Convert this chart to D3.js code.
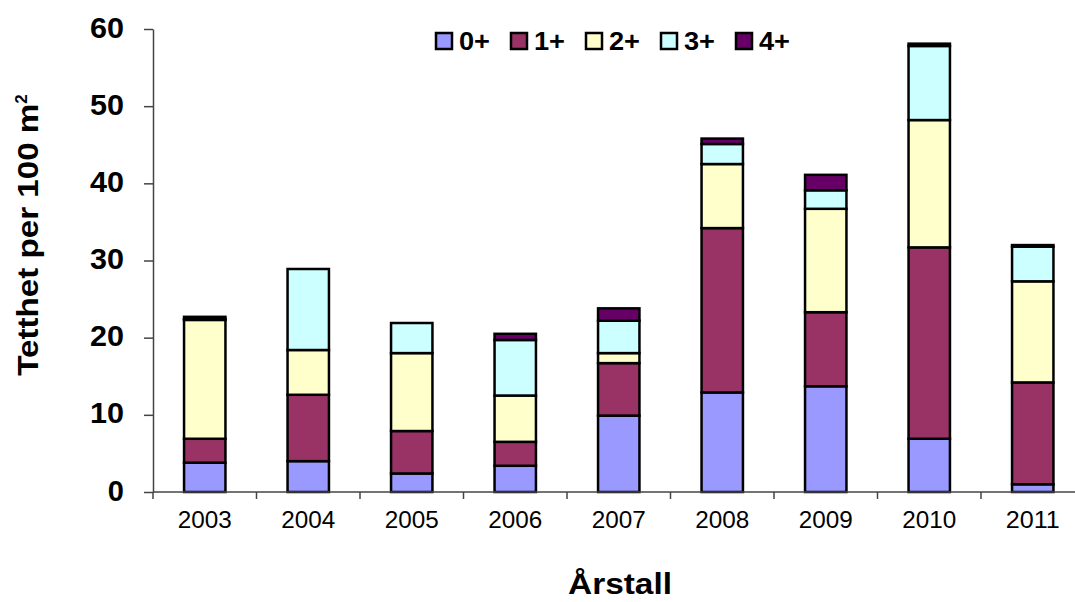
<!DOCTYPE html>
<html>
<head>
<meta charset="utf-8">
<script src="https://cdn.jsdelivr.net/npm/d3@7/dist/d3.min.js"></script>
<style>
  html, body { margin: 0; padding: 0; background: #fff; }
  svg { display: block; font-family: "Liberation Sans", Arial, sans-serif; }
</style>
</head>
<body>
<svg id="chart" width="1075" height="602"></svg>
<script>
const years = ["2003","2004","2005","2006","2007","2008","2009","2010","2011"];
const seriesNames = ["0+","1+","2+","3+","4+"];
const age0 = [3.8, 4.0, 2.4, 3.4, 9.9, 12.9, 13.7, 6.9, 1.0];
const age1 = [3.1, 8.6, 5.5, 3.1, 6.8, 21.3, 9.6, 24.8, 13.2];
const age2 = [15.4, 5.8, 10.1, 6.0, 1.3, 8.3, 13.4, 16.5, 13.1];
const age3 = [0.1, 10.5, 3.9, 7.2, 4.2, 2.6, 2.4, 9.6, 4.5];
const age4 = [0.3, 0.0, 0.0, 0.8, 1.6, 0.7, 2.0, 0.3, 0.2];
const yTicks = [0, 10, 20, 30, 40, 50, 60];
const colors = ["#9999FF", "#993366", "#FFFFCC", "#CCFFFF", "#660066"];

const seriesValues = [age0, age1, age2, age3, age4];
const rows = years.map((y, i) => {
  const r = { year: y };
  seriesNames.forEach((s, k) => r[s] = seriesValues[k][i]);
  return r;
});

const svg = d3.select("#chart");
const x0 = 153, x1 = 1084.5, yBottom = 492, yTop = 29;

const x = d3.scaleBand().domain(years).range([x0, x1]).paddingInner(0.6).paddingOuter(0.3);
const xb = d3.scaleBand().domain(years).range([x0, x1]);
const y = d3.scaleLinear().domain([0, 60]).range([yBottom, yTop]);
const color = d3.scaleOrdinal().domain(seriesNames).range(colors);

const stacked = d3.stack().keys(seriesNames)(rows);

// bars
const g = svg.append("g");
stacked.forEach(layer => {
  g.selectAll(null).data(layer).enter().append("rect")
    .attr("x", d => x(d.data.year))
    .attr("width", x.bandwidth())
    .attr("y", d => y(d[1]))
    .attr("height", d => Math.max(0, y(d[0]) - y(d[1])))
    .attr("fill", color(layer.key))
    .attr("stroke", "#000")
    .attr("stroke-width", 2.5);
});

// y axis
const yAxis = svg.append("g").attr("transform", `translate(${x0},0)`)
  .call(d3.axisLeft(y).tickValues(yTicks).tickSize(9).tickPadding(20).tickSizeOuter(0));
yAxis.select(".domain").attr("stroke", "#444").attr("stroke-width", 1.5);
yAxis.selectAll(".tick line").attr("stroke", "#444").attr("stroke-width", 1.5);
yAxis.selectAll(".tick text")
  .attr("font-size", 29).attr("font-weight", "bold").attr("fill", "#000")
  .attr("font-family", "Liberation Sans, Arial, sans-serif")
  .attr("dy", "0.28em")
  .attr("textLength", 34).attr("lengthAdjust", "spacingAndGlyphs");
yAxis.selectAll(".tick text").filter(d => d === 0).attr("textLength", null);

// x axis
const xAxisG = svg.append("g").attr("transform", `translate(0,${yBottom})`);
xAxisG.append("line").attr("x1", x0).attr("x2", x1).attr("y1", 0).attr("y2", 0)
  .attr("stroke", "#444").attr("stroke-width", 1.5);
xAxisG.selectAll(".xt").data(years.concat(["end"])).enter().append("line")
  .attr("x1", (d, i) => x0 + i * xb.bandwidth())
  .attr("x2", (d, i) => x0 + i * xb.bandwidth())
  .attr("y1", 0).attr("y2", 7)
  .attr("stroke", "#444").attr("stroke-width", 1.5);
xAxisG.selectAll(".xl").data(years).enter().append("text")
  .attr("x", d => xb(d) + xb.bandwidth() / 2)
  .attr("y", 36)
  .attr("text-anchor", "middle")
  .attr("font-size", 23)
  .attr("fill", "#000")
  .attr("textLength", 54).attr("lengthAdjust", "spacingAndGlyphs")
  .text(d => d);

// axis titles
svg.append("text")
  .attr("transform", "translate(38,235) rotate(-90)")
  .attr("text-anchor", "middle")
  .attr("font-size", 29).attr("font-weight", "bold")
  .html('<tspan textLength="272" lengthAdjust="spacingAndGlyphs">Tetthet per 100 m</tspan><tspan dy="-11" font-size="17">2</tspan>');

svg.append("text")
  .attr("x", 620).attr("y", 594)
  .attr("text-anchor", "middle")
  .attr("font-size", 30).attr("font-weight", "bold")
  .attr("textLength", 104).attr("lengthAdjust", "spacingAndGlyphs")
  .text("Årstall");

// legend
const legend = svg.append("g");
const lx = d3.scaleLinear().domain([0, 1]).range([436, 511]);
seriesNames.forEach((s, i) => {
  const gx = lx(i);
  legend.append("rect").attr("x", gx).attr("y", 33).attr("width", 16).attr("height", 16)
    .attr("fill", color(s)).attr("stroke", "#000").attr("stroke-width", 2.5);
  legend.append("text").attr("x", gx + 23).attr("y", 50)
    .attr("font-size", 25).attr("font-weight", "bold")
    .attr("textLength", 31).attr("lengthAdjust", "spacingAndGlyphs").text(s);
});
</script>
</body>
</html>
